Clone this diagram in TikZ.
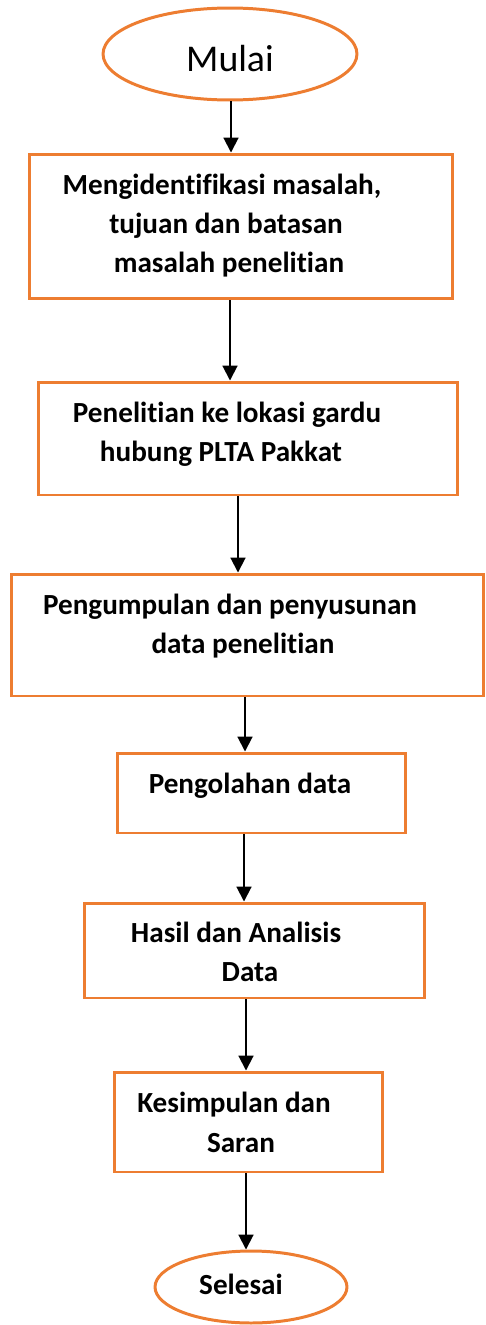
\documentclass[tikz,border=0pt]{standalone}
\usepackage{fontspec}
\setmainfont[Ligatures=NoCommon]{Carlito}
\usetikzlibrary{shapes.geometric,arrows.meta}
\definecolor{jingga}{HTML}{ED7D31}

\tikzset{
  kotak/.style={draw=jingga, line width=1.7pt, inner sep=0pt},
  oval/.style={kotak, ellipse},
  teks/.style={align=center, font=\bfseries\fontsize{16.6}{22.4}\selectfont},
  panah/.style={-{Triangle[length=8.5pt,width=8.5pt]}, line width=1.1pt},
}

\begin{document}
\begin{tikzpicture}[x=0.02cm, y=-0.02cm]
  \useasboundingbox (0,0) rectangle (485,1325);

  % mulai dan selesai
  \node[oval, minimum width=5.08cm, minimum height=1.84cm] (mulai) at (230,54) {};
  \node[font=\fontsize{21.5}{26}\selectfont] at (230,58.5) {Mulai};

  \node[oval, minimum width=3.84cm, minimum height=1.44cm] (selesai) at (251,1287) {};
  \node[teks] at (241,1284) {Selesai};

  % langkah-langkah
  \node[kotak, minimum width=8.48cm, minimum height=2.9cm] (b1) at (241,226.5) {};
  \node[teks] at (222,225.5) {Mengidentifikasi masalah,\\ \hspace*{0.16cm}tujuan dan batasan\\ \hspace*{0.28cm}masalah penelitian};

  \node[kotak, minimum width=8.4cm, minimum height=2.26cm] (b2) at (248,438.5) {};
  \node[teks] at (227,434) {Penelitian ke lokasi gardu\\ hubung PLTA Pakkat\hspace*{0.24cm}};

  \node[kotak, minimum width=9.46cm, minimum height=2.44cm] (b3) at (247.5,635) {};
  \node[teks] at (230,626) {Pengumpulan dan penyusunan\\ \hspace*{0.52cm}data penelitian};

  \node[kotak, minimum width=5.78cm, minimum height=1.6cm] (b4) at (261.5,793) {};
  \node[teks] at (250,786) {Pengolahan data};

  \node[kotak, minimum width=6.82cm, minimum height=1.9cm] (b5) at (254.5,950.5) {};
  \node[teks] at (236,952) {Hasil dan Analisis\\ \hspace*{0.56cm}Data};

  \node[kotak, minimum width=5.38cm, minimum height=2cm] (b6) at (248.5,1122) {};
  \node[teks] at (234,1122.5) {Kesimpulan dan\\ \hspace*{0.28cm}Saran};

  % panah
  \draw[panah] (mulai.south -| 231,0) -- (b1.north -| 231,0);
  \draw[panah] (b1.south -| 230,0) -- (b2.north -| 230,0);
  \draw[panah] (b2.south -| 238,0) -- (b3.north -| 238,0);
  \draw[panah] (b3.south -| 245,0) -- (b4.north -| 245,0);
  \draw[panah] (b4.south -| 244,0) -- (b5.north -| 244,0);
  \draw[panah] (b5.south -| 246,0) -- (b6.north -| 246,0);
  \draw[panah] (b6.south -| 246,0) -- (selesai.north -| 246,0);
\end{tikzpicture}
\end{document}
